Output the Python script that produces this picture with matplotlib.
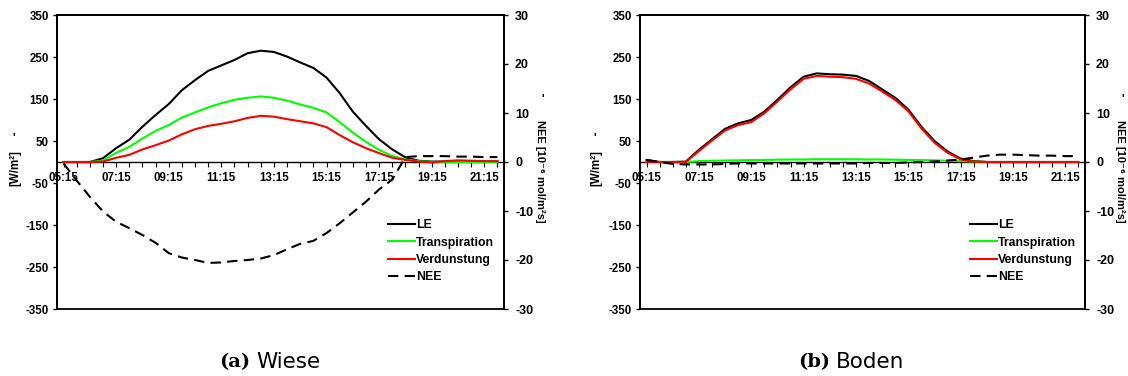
import matplotlib
matplotlib.use("Agg")
import matplotlib.pyplot as plt
from matplotlib.lines import Line2D

plt.rcParams["axes.unicode_minus"] = False

# ---------------- data ----------------
times = ["05:15", "05:45", "06:15", "06:45", "07:15", "07:45", "08:15", "08:45",
         "09:15", "09:45", "10:15", "10:45", "11:15", "11:45", "12:15", "12:45",
         "13:15", "13:45", "14:15", "14:45", "15:15", "15:45", "16:15", "16:45",
         "17:15", "17:45", "18:15", "18:45", "19:15", "19:45", "20:15", "20:45",
         "21:15", "21:45"]
tick_labels = ["05:15", "07:15", "09:15", "11:15", "13:15", "15:15", "17:15", "19:15", "21:15"]

# (a) Wiese
le_a = [0, 0, 0, 9, 33, 53, 84, 112, 138, 171, 195, 217, 230, 243, 259, 265, 262,
        251, 237, 224, 201, 164, 120, 86, 54, 30, 11, 3, 1, 1, 2, 2, 1, 1]
trans_a = [0, 0, 0, 3, 22, 36, 56, 74, 88, 106, 118, 130, 140, 148, 153, 156, 153,
           146, 137, 129, 118, 95, 70, 48, 29, 14, 6, 2, 0, 0, 0, 0, 0, 0]
verd_a = [0, 0, 0, 1, 10, 17, 30, 40, 51, 66, 78, 86, 91, 97, 105, 110, 108,
          102, 97, 92, 83, 64, 47, 33, 21, 10, 5, 1, -1, 2, 4, 3, 2, 2]
nee_a = [-0.3, -3.8, -7.1, -10.1, -12.2, -13.5, -14.9, -16.5, -18.6, -19.5, -20.0,
         -20.6, -20.5, -20.2, -20.0, -19.7, -19.0, -17.8, -16.7, -16.1, -14.5, -12.5,
         -10.3, -8.1, -5.6, -3.6, 1.0, 1.2, 1.2, 1.2, 1.1, 1.1, 1.0, 1.0]

# (b) Boden
le_b = [5, 0, 0, 1, 29, 54, 79, 92, 100, 120, 148, 178, 203, 211, 209, 208, 205,
        193, 173, 153, 125, 84, 50, 25, 8, 2, 0, 0, 0, 0, 0, 0, 0, 0]
trans_b = [0, 0, 0, 0, 2, 3, 3.5, 4, 4.5, 5, 5.5, 6, 6, 6.5, 6.5, 6.5, 6.5,
           6, 6, 5.5, 5, 4.5, 4, 3, 2, 1, 0, 0, 0, 0, 0, 0, 0, 0]
verd_b = [0, 0, 0, 0, 26, 51, 75, 88, 95, 116, 144, 173, 198, 205, 203, 202, 198,
          187, 168, 148, 121, 80, 46, 22, 6, 1, 0, 0, 0, 0, 0, 0, 0, 0]
nee_b = [0.4, 0.0, -0.4, -0.5, -0.5, -0.5, -0.4, -0.3, -0.3, -0.3, -0.3, -0.3, -0.3,
         -0.3, -0.3, -0.3, -0.3, -0.2, -0.2, -0.2, -0.1, 0.0, 0.1, 0.3, 0.5, 0.9,
         1.3, 1.5, 1.5, 1.4, 1.3, 1.3, 1.2, 1.2]

series_names = ["LE", "Transpiration", "Verdunstung", "NEE"]
colors = ["#000000", "#00ff00", "#ff0000", "#000000"]
left_ticks = [350, 250, 150, 50, -50, -150, -250, -350]
right_ticks = [30, 20, 10, 0, -10, -20, -30]

# ---------------- style ----------------
FONT = "Liberation Sans"
FS = 8.3
W, H = 1128, 376
fig = plt.figure(figsize=(W / 100, H / 100), dpi=100)


def px_rect(x0, x1, y0, y1):
    return [x0 / W, 1 - y1 / H, (x1 - x0) / W, (y1 - y0) / H]


def panel(rect, le, trans, verd, nee, leg_xy, ylab_x, ylab2_x, caption_x, letter, word):
    ax = fig.add_axes(px_rect(*rect))
    x = list(range(len(times)))
    ax.plot(x, le, color=colors[0], lw=1.5, label=series_names[0], zorder=3)
    ax.plot(x, trans, color=colors[1], lw=1.5, label=series_names[1], zorder=3)
    ax.plot(x, verd, color=colors[2], lw=1.5, label=series_names[2], zorder=4)
    ax.set_xlim(-0.5, len(times) - 0.5)
    ax.set_ylim(-350, 350)
    ax.set_yticks(left_ticks)
    ax.set_yticklabels([str(v) for v in left_ticks])
    for sp in ax.spines.values():
        sp.set_linewidth(1.3)
    ax.spines["bottom"].set_position(("data", 0))
    ax.spines["bottom"].set_linewidth(1.0)
    # frame bottom
    ax.add_line(Line2D([0, 1], [0, 0], transform=ax.transAxes, color="k", lw=1.3, clip_on=False))
    ax.set_xticks(x)
    ax.set_xticklabels([t if t in tick_labels else "" for t in times])
    ax.tick_params(axis="x", direction="out", length=3.5, width=0.8, pad=4)
    ax.tick_params(axis="y", direction="out", length=3, width=1.0, pad=3)
    for lab in ax.get_xticklabels() + ax.get_yticklabels():
        lab.set_fontfamily(FONT)
        lab.set_fontweight("bold")
        lab.set_fontsize(FS)

    ax2 = ax.twinx()
    ax2.plot(x, nee, color=colors[3], lw=1.5, dashes=(5, 3), label=series_names[3], zorder=5)
    ax2.set_ylim(-30, 30)
    ax2.set_yticks(right_ticks)
    ax2.set_yticklabels([str(v) for v in right_ticks])
    ax2.tick_params(axis="y", direction="out", length=3, width=1.0, pad=5)
    for sp in ax2.spines.values():
        sp.set_linewidth(1.3)
    ax2.spines["bottom"].set_visible(False)
    for lab in ax2.get_yticklabels():
        lab.set_fontfamily(FONT)
        lab.set_fontweight("bold")
        lab.set_fontsize(FS + 0.7)

    # axis titles
    fig.text(ylab_x / W, 1 - 168 / H, "[W/m²]", rotation=90, ha="center", va="center",
             family=[FONT, "DejaVu Sans"], weight="bold", fontsize=FS)
    fig.text((ylab_x - 1) / W, 1 - 139 / H, "'", ha="center", va="center",
             family=[FONT], weight="bold", fontsize=FS)
    fig.text(ylab2_x / W, 1 - 171 / H, "NEE [10⁻⁶ mol/m²s]", rotation=270, ha="center",
             va="center", family=[FONT, "DejaVu Sans"], weight="bold", fontsize=8.0)
    fig.text((ylab2_x + 3) / W, 1 - 100 / H, "'", ha="center", va="center",
             family=[FONT], weight="bold", fontsize=FS)

    h1, l1 = ax.get_legend_handles_labels()
    h2, l2 = ax2.get_legend_handles_labels()
    ax2.legend(h1 + h2, l1 + l2, loc="upper left",
               bbox_to_anchor=(leg_xy[0] / W, 1 - leg_xy[1] / H),
               bbox_transform=fig.transFigure, frameon=False,
               handlelength=2.2, handletextpad=0.1, labelspacing=0.45,
               borderpad=0, borderaxespad=0,
               prop={"family": FONT, "weight": "bold", "size": 8.8})

    # caption
    fig.text(caption_x / W, 1 - 362 / H, letter, ha="right", va="center",
             family="DejaVu Serif", weight="bold", fontsize=14)
    fig.text((caption_x + 6) / W, 1 - 362 / H, word, ha="left", va="center",
             family="DejaVu Sans", fontsize=15.5)
    return ax, ax2


panel((57, 504, 15, 309), le_a, trans_a, verd_a, nee_a, (388, 219), 15, 540, 250, "(a)", "Wiese")
panel((640, 1085, 15, 309), le_b, trans_b, verd_b, nee_b, (970, 219), 596, 1120, 830, "(b)", "Boden")

fig.savefig("out.png", dpi=100)
